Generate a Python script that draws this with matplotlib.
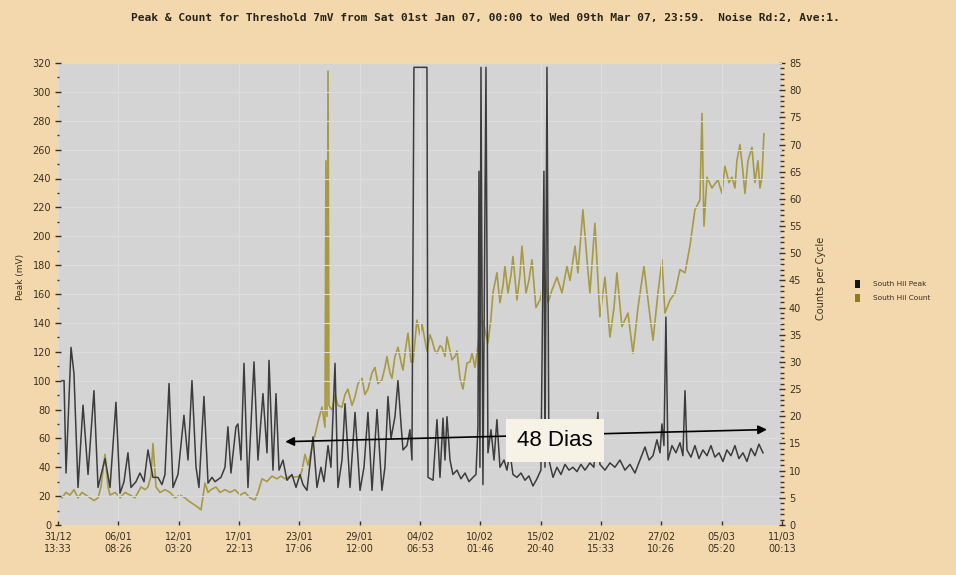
import matplotlib
matplotlib.use("Agg")
import matplotlib.pyplot as plt
from matplotlib.patches import Patch
from matplotlib.ticker import MultipleLocator
from datetime import datetime

# ---------------- data ----------------
title = ("Peak & Count for Threshold 7mV from Sat 01st Jan 07, 00:00 to "
         "Wed 09th Mar 07, 23:59.  Noise Rd:2, Ave:1.")

tick_labels = ["31/12\n13:33", "06/01\n08:26", "12/01\n03:20", "17/01\n22:13",
               "23/01\n17:06", "29/01\n12:00", "04/02\n06:53", "10/02\n01:46",
               "15/02\n20:40", "21/02\n15:33", "27/02\n10:26", "05/03\n05:20",
               "11/03\n00:13"]

series_names = ["South Hil Peak", "South Hil Count"]

# days since 31/12 13:33
peak_days = [0.38, 0.58, 0.77, 1.25, 1.53, 1.92, 2.40, 2.88, 3.45, 3.84, 4.51, 4.99,
             5.56, 5.95, 6.33, 6.71, 7.00, 7.48, 7.86, 8.25, 8.63, 9.11, 9.59, 9.97,
             10.26, 10.65, 11.03, 11.51, 12.08, 12.47, 12.85, 13.24, 13.52, 14.00,
             14.39, 14.77, 15.06, 15.63, 16.02, 16.30, 16.59, 17.07, 17.26, 17.55,
             17.84, 18.22, 18.80, 19.18, 19.66, 20.05, 20.24, 20.62, 20.91, 21.20,
             21.58, 21.96, 22.44, 22.83, 23.21, 23.50, 23.88, 24.46, 24.84, 25.22,
             25.51, 25.90, 26.18, 26.57, 26.85, 27.24, 27.53, 28.01, 28.49, 28.97,
             29.35, 29.73, 30.12, 30.60, 31.07, 31.36, 31.65, 31.94, 32.32, 32.61,
             32.90, 33.09, 33.47, 33.76, 33.95, 34.14, 35.39, 35.49, 35.97, 36.35,
             36.64, 36.93, 37.12, 37.31, 37.60, 37.88, 38.27, 38.65, 39.04, 39.42,
             39.80, 40.09, 40.28, 40.38, 40.47, 40.57, 40.76, 41.05, 41.24, 41.53,
             41.82, 42.10, 42.39, 42.78, 43.06, 43.35, 43.64, 44.02, 44.41, 44.79,
             45.17, 45.56, 45.94, 46.32, 46.61, 46.71, 46.90, 47.09, 47.48, 47.86,
             48.24, 48.63, 49.01, 49.39, 49.78, 50.16, 50.54, 51.02, 51.40, 51.79,
             51.98, 52.46, 52.94, 53.42, 53.90, 54.38, 54.86, 55.34, 55.82, 56.30,
             56.69, 57.07, 57.45, 57.74, 57.93, 58.12, 58.31, 58.51, 58.89, 59.27,
             59.66, 59.94, 60.14, 60.33, 60.71, 61.09, 61.48, 61.86, 62.25, 62.63,
             63.01, 63.40, 63.78, 64.16, 64.55, 64.93, 65.31, 65.70, 66.08, 66.47,
             66.85, 67.23, 67.62]
peak_mv = [100, 100, 36, 123, 105, 26, 83, 35, 93, 26, 46, 26,
           85, 22, 30, 50, 26, 30, 36, 30, 52, 33, 33, 28,
           35, 98, 26, 35, 76, 45, 100, 40, 26, 89,
           29, 33, 30, 33, 40, 68, 36, 68, 70, 45,
           112, 26, 113, 45, 91, 50, 114, 38, 91, 38,
           45, 31, 35, 26, 35, 28, 24, 61, 26, 40,
           30, 55, 40, 112, 26, 45, 84, 26, 78, 24,
           40, 78, 24, 80, 24, 40, 89, 60, 75, 100,
           70, 52, 55, 66, 45, 317, 317, 33, 31, 73,
           33, 74, 45, 75, 45, 35, 38, 32, 36, 30,
           33, 35, 68, 245, 40, 317, 28, 317, 50, 66,
           45, 73, 40, 45, 38, 50, 35, 33, 36, 31,
           34, 27, 32, 38, 245, 40, 317, 45, 33, 40,
           35, 42, 38, 40, 37, 42, 38, 43, 40, 78,
           42, 38, 43, 40, 45, 38, 42, 36, 45, 54,
           45, 48, 59, 50, 70, 55, 144, 45, 55, 50,
           57, 48, 93, 52, 47, 55, 46, 52, 48, 55,
           47, 50, 44, 52, 48, 55, 46, 50, 44, 53,
           48, 56, 50]

count_days = [0.38, 0.77, 1.15, 1.53, 1.92, 2.30, 2.69, 3.07, 3.45, 3.84, 4.12, 4.51,
              4.80, 4.99, 5.47, 5.95, 6.43, 6.91, 7.39, 7.67, 7.96, 8.34, 8.63, 8.92,
              9.11, 9.40, 9.78, 10.26, 10.74, 11.22, 11.70, 12.18, 12.47, 12.85, 13.24,
              13.72, 14.10, 14.39, 14.67, 15.15, 15.54, 16.02, 16.50, 16.98, 17.46,
              17.94, 18.41, 18.89, 19.18, 19.57, 20.05, 20.52, 21.00, 21.39, 21.77,
              22.25, 22.73, 23.21, 23.40, 23.69, 23.98, 24.46, 24.94, 25.32, 25.61,
              25.70, 25.80, 25.90, 25.99, 26.28, 26.57, 26.85, 27.24, 27.53, 27.81,
              28.20, 28.49, 28.77, 29.16, 29.44, 29.73, 30.12, 30.40, 30.69, 31.07,
              31.36, 31.55, 31.84, 32.03, 32.32, 32.61, 32.90, 33.09, 33.38, 33.57,
              33.86, 34.05, 34.43, 34.72, 34.91, 35.20, 35.39, 35.68, 35.87, 36.16,
              36.35, 36.64, 36.83, 37.12, 37.31, 37.60, 37.79, 38.08, 38.27, 38.56,
              38.84, 39.23, 39.52, 39.71, 40.00, 40.28, 40.47, 40.76, 41.05, 41.24,
              41.53, 41.72, 42.10, 42.39, 42.68, 42.87, 43.16, 43.45, 43.64, 44.02,
              44.31, 44.50, 44.89, 45.17, 45.46, 45.84, 46.23, 46.71, 47.00, 47.38,
              47.86, 48.34, 48.82, 49.11, 49.59, 49.87, 50.35, 50.74, 51.02, 51.50,
              51.98, 52.46, 52.94, 53.33, 53.61, 54.09, 54.67, 55.15, 55.63, 56.20,
              56.59, 57.07, 57.55, 57.93, 58.22, 58.70, 59.18, 59.66, 60.14, 60.61,
              61.09, 61.57, 61.77, 61.96, 62.25, 62.72, 63.30, 63.68, 63.97, 64.36,
              64.64, 64.93, 65.12, 65.41, 65.70, 65.89, 66.18, 66.56, 66.85, 67.14,
              67.33, 67.52, 67.71]
count_vals = [5, 6, 5.5, 6.5, 5, 6, 5.5, 5, 4.5, 5, 7, 13,
              7, 5.5, 6, 5, 6, 5.5, 5, 6, 7, 6.5, 7, 9,
              15, 7, 6, 6.5, 6, 5, 5.5, 5, 4.5, 4, 3.5,
              2.8, 7.7, 6, 6.5, 7, 6, 6.5, 6, 6.5, 5.5,
              6, 5, 4.6, 6, 8.5, 8, 9, 8.5, 9, 8.5,
              9, 8.8, 9, 10, 13, 11, 15, 19, 21.7, 18,
              67, 20, 83.5, 22, 21, 24, 22, 21.7, 24, 25,
              22, 23.6, 26, 27, 24, 25, 28, 29, 26, 26.7,
              29, 31, 28, 27, 31, 32.7, 30, 28.5, 33, 35.3,
              30, 30, 37.7, 35, 37, 34, 32, 35, 34, 32,
              31.6, 33, 32.7, 31, 34.6, 32, 30.4, 31, 32, 27,
              25, 29.8, 30, 31.6, 29, 33, 36.5, 37.7, 35, 33.5,
              38, 42.7, 46.4, 40.9, 44, 47.6, 42.7, 46, 49.4, 41.4,
              46, 51.3, 42.7, 45, 48.8, 40, 41.4, 46.4, 40.9, 43.2,
              45.6, 42.7, 47.6, 45, 51.3, 46.4, 58, 48.8, 42.7, 55.5,
              38.3, 45.6, 34.6, 40, 46.4, 36.5, 39, 31.6, 40, 47.6,
              41.4, 34, 42.7, 48.8, 39, 41.4, 42.7, 47, 46.4, 51.3,
              58, 59.8, 75.7, 55, 64, 62, 63.5, 61, 66, 63,
              64, 62, 67, 70, 65, 61, 67, 69.5, 63, 67,
              62, 64, 72]

annotation_text = "48 Dias"


def to_dt(lbl):
    d, t = lbl.split("\n")
    day, mon = map(int, d.split("/"))
    hh, mm = map(int, t.split(":"))
    return datetime(2006 if mon == 12 else 2007, mon, day, hh, mm)


t0 = to_dt(tick_labels[0])
tick_days = [(to_dt(l) - t0).total_seconds() / 86400 for l in tick_labels]

# ---------------- style ----------------
BG = "#F2D8AC"
PLOT_BG = "#D4D4D4"
GRID = "#DCDCDC"
TXT = "#3B3020"
PEAK_C = "#3C3C3C"
COUNT_C = "#A89A42"

W, H = 956, 575
fig = plt.figure(figsize=(W / 100, H / 100), dpi=100, facecolor=BG)

x0, x1, ytop, ybot = 58, 782, 63, 525
ax = fig.add_axes([x0 / W, 1 - ybot / H, (x1 - x0) / W, (ybot - ytop) / H])
ax2 = ax.twinx()
ax.set_zorder(ax2.get_zorder() + 1)
ax.patch.set_visible(False)
ax2.patch.set_visible(True)
ax2.set_facecolor(PLOT_BG)

for a in (ax, ax2):
    for s in a.spines.values():
        s.set_visible(False)

# count (right axis)
ax2.plot(count_days, count_vals, color=COUNT_C, lw=1.2, zorder=2)
ax2.set_ylim(0, 85)
ax2.yaxis.set_major_locator(MultipleLocator(5))
ax2.yaxis.set_minor_locator(MultipleLocator(1))
ax2.tick_params(axis="y", which="major", direction="inout", length=4, width=1,
                color=TXT, labelsize=7, labelcolor=TXT, pad=3)
ax2.tick_params(axis="y", which="minor", direction="inout", length=3, width=1,
                color=TXT)

# peak (left axis)
ax.plot(peak_days, peak_mv, color=PEAK_C, lw=1.1, zorder=3)
ax.set_ylim(0, 320)
ax.set_xlim(tick_days[0], tick_days[-1])
ax.yaxis.set_major_locator(MultipleLocator(20))
ax.yaxis.set_minor_locator(MultipleLocator(10))
ax.tick_params(axis="y", which="major", direction="inout", length=4, width=1,
               color=TXT, labelsize=7, labelcolor=TXT, pad=3)
ax.tick_params(axis="y", which="minor", direction="inout", length=2, width=1,
               color=TXT)
ax.set_xticks(tick_days)
ax.set_xticklabels(tick_labels)
ax.tick_params(axis="x", direction="in", length=3, width=1, color=TXT,
               labelsize=7, labelcolor=TXT, pad=5)
ax.grid(True, color=GRID, lw=0.8, zorder=0)
ax.set_axisbelow(True)

# axis titles
fig.text(21 / W, 1 - 277 / H, "Peak (mV)", rotation=90, ha="center",
         va="center", fontsize=6.5, color=TXT)
fig.text(821 / W, 1 - 278 / H, "Counts per Cycle", rotation=90, ha="center",
         va="center", fontsize=7, color=TXT)

# title
fig.text(485 / W, 1 - 18 / H, title, ha="center", va="center",
         family="DejaVu Sans Mono", weight="bold", fontsize=8.1, color="#2A2418")

# legend
handles = [Patch(facecolor="#151515", edgecolor="none"),
           Patch(facecolor="#8C7C1E", edgecolor="none")]
fig.legend(handles, series_names, loc="upper left",
           bbox_to_anchor=(848 / W, 1 - 273 / H), frameon=False, fontsize=5.3,
           handlelength=0.7, handleheight=1.3, handletextpad=1.8,
           labelspacing=0.8, labelcolor=TXT)

# annotation: double arrow + label
ax.annotate("", xy=(68.0, 66.1), xytext=(21.8, 57.7),
            arrowprops=dict(arrowstyle="<|-|>", color="black", lw=1.2,
                            mutation_scale=13, shrinkA=0, shrinkB=0),
            zorder=5)
ax.text(47.7, 58.4, annotation_text, ha="center", va="center",
        family="Liberation Sans", fontsize=16, color="black", zorder=6,
        bbox=dict(boxstyle="square,pad=0.5", fc="#F6F3E6", ec="none"))

fig.savefig("out.png", dpi=100, facecolor=BG)
